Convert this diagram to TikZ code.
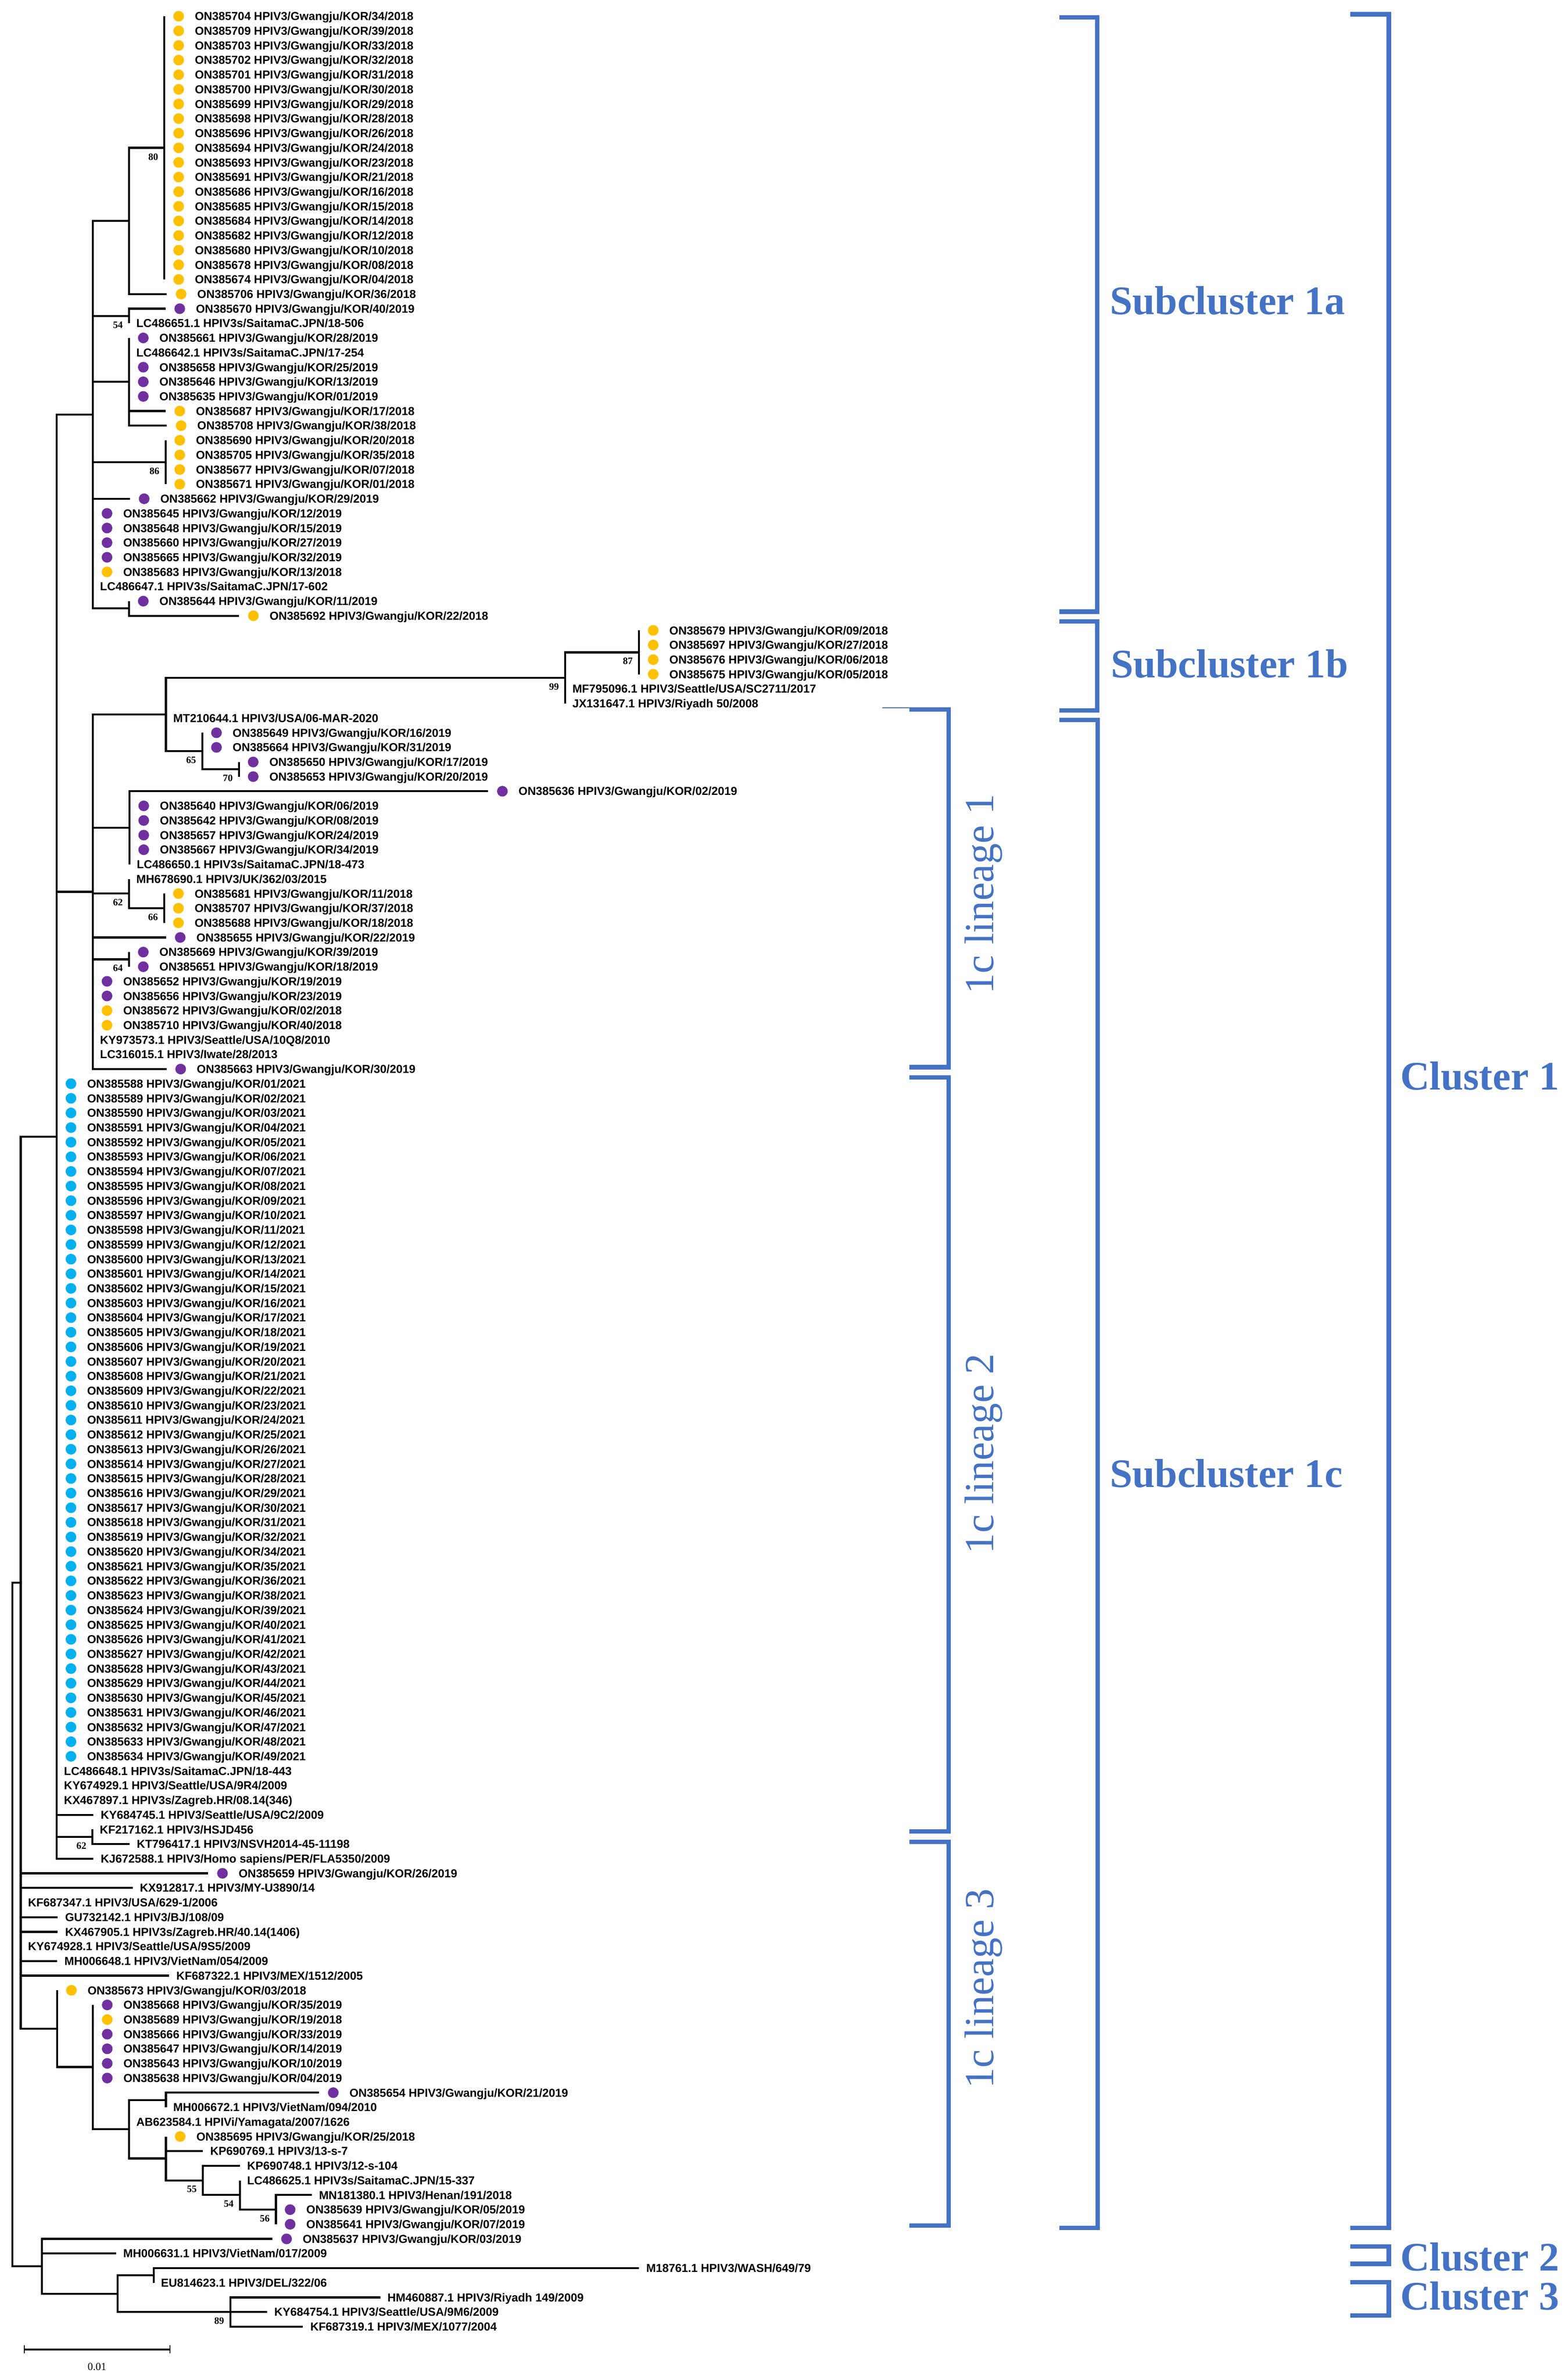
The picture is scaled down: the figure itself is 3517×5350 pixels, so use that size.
\documentclass[tikz,border=0pt]{standalone}
\usepackage{fontspec}
\setmainfont{Liberation Serif}
\newfontfamily\labfam{Liberation Sans}
\usetikzlibrary{calc}
\definecolor{cyel}{HTML}{FFC000}
\definecolor{cpur}{HTML}{7030A0}
\definecolor{cblu}{HTML}{00B0F0}
\definecolor{cbrk}{HTML}{4472C4}
\newcommand{\ry}[1]{(36.5+32.87*(#1))}
\newcommand{\inode}[4]{\coordinate (#1) at (#3,{\ry{#4}}); \draw[br] (#2) |- (#1);}
\newcommand{\tipd}[6]{\coordinate (#1) at (#3,{\ry{#4}}); \draw[br] (#2) |- (#1);
  \node[dot,fill=#5] (#1d) at ($(#1)+(32,0)$) {};
  \node[lab] (#1t) at ($(#1)+(68,9.3)$) {#6};}
\newcommand{\tipn}[5]{\coordinate (#1) at (#3,{\ry{#4}}); \draw[br] (#2) |- (#1);
  \node[lab] (#1t) at ($(#1)+(16,9.3)$) {#5};}
\newcommand{\bs}[2]{\node[bsl] (bs#1) at ($(#1)+(-25,20)$) {#2};}
\newcommand{\gw}[2]{ON385#1 HPIV3/Gwangju/KOR/#2}
\begin{document}
\begin{tikzpicture}[x=0.5pt,y=-0.5pt,
  br/.style={line width=2.25pt,draw=black},
  dot/.style={circle,inner sep=0pt,minimum size=12pt,draw=none},
  lab/.style={anchor=base west,inner sep=0pt,font=\labfam\bfseries\fontsize{13}{13}\selectfont},
  bsl/.style={inner sep=0pt,font=\bfseries\fontsize{11}{11}\selectfont},
  brk/.style={draw=cbrk,line width=5pt,line join=miter},
  blab/.style={text=cbrk,anchor=base west,inner sep=0pt,font=\bfseries\fontsize{45.5}{46}\selectfont},
  llab/.style={text=cbrk,rotate=90,anchor=base,inner sep=0pt,font=\fontsize{46.5}{47}\selectfont}]
\useasboundingbox (0,0) rectangle (3517,5350);
\fill[white] (0,0) rectangle (3517,5350);
% ---- internal nodes
\coordinate (R0) at (28,{\ry{130.5}});
\inode{R1}{R0}{46.5}{107.125}
\inode{Z}{R0}{94.5}{153.875}
\inode{N127}{R1}{127.5}{76.625}
\inode{Q}{R1}{128.5}{137.625}
\inode{B}{N127}{208.5}{27.25}
\inode{J}{N127}{208.5}{59.875}
\inode{N2}{N127}{208}{124.5}
\inode{A}{B}{290}{14}
\inode{A19}{A}{369.5}{9}
\inode{C}{B}{290}{20.5}
\inode{D}{B}{290}{25}
\inode{E}{B}{372}{30.5}
\inode{F}{B}{290}{40.5}
\inode{G}{J}{373}{47.75}
\inode{B1b}{G}{1270}{45.25}
\inode{B1c}{B1b}{1436}{43.5}
\inode{H}{G}{454.5}{50.25}
\inode{I}{H}{537}{51.5}
\inode{K}{J}{291}{55.5}
\inode{L}{J}{290}{60}
\inode{N}{L}{369}{61}
\inode{M}{J}{290}{64.5}
\inode{Rn}{Q}{209}{140.25}
\inode{S}{Rn}{290}{144.5}
\inode{T}{S}{373}{142.5}
\inode{U}{S}{373}{146.5}
\inode{V}{U}{456}{148}
\inode{W}{V}{539}{149}
\inode{X}{W}{620}{150}
\inode{AA}{Z}{264}{155.75}
\inode{AB}{AA}{345.5}{154.5}
\inode{AC}{AA}{517.5}{157}
% ---- subcluster 1a
\foreach \a/\b [count=\r from 0] in {704/34,709/39,703/33,702/32,701/31,700/30,699/29,698/28,696/26,694/24,693/23,691/21,686/16,685/15,684/14,682/12,680/10,678/08,674/04}
  {\tipd{a\r}{A19}{369.5}{\r}{cyel}{\gw{\a}{\b/2018}}}
\tipd{t19}{A}{375}{19}{cyel}{\gw{706}{36/2018}}
\tipd{t20}{C}{372}{20}{cpur}{\gw{670}{40/2019}}
\tipn{t21}{C}{290}{21}{LC486651.1 HPIV3s/SaitamaC.JPN/18-506}
\tipd{t22}{D}{290}{22}{cpur}{\gw{661}{28/2019}}
\tipn{t23}{D}{290}{23}{LC486642.1 HPIV3s/SaitamaC.JPN/17-254}
\tipd{t24}{D}{290}{24}{cpur}{\gw{658}{25/2019}}
\tipd{t25}{D}{290}{25}{cpur}{\gw{646}{13/2019}}
\tipd{t26}{D}{290}{26}{cpur}{\gw{635}{01/2019}}
\tipd{t27}{D}{372}{27}{cyel}{\gw{687}{17/2018}}
\tipd{t28}{D}{375}{28}{cyel}{\gw{708}{38/2018}}
\tipd{t29}{E}{372}{29}{cyel}{\gw{690}{20/2018}}
\tipd{t30}{E}{372}{30}{cyel}{\gw{705}{35/2018}}
\tipd{t31}{E}{372}{31}{cyel}{\gw{677}{07/2018}}
\tipd{t32}{E}{372}{32}{cyel}{\gw{671}{01/2018}}
\tipd{t33}{B}{292}{33}{cpur}{\gw{662}{29/2019}}
\tipd{t34}{B}{208.5}{34}{cpur}{\gw{645}{12/2019}}
\tipd{t35}{B}{208.5}{35}{cpur}{\gw{648}{15/2019}}
\tipd{t36}{B}{208.5}{36}{cpur}{\gw{660}{27/2019}}
\tipd{t37}{B}{208.5}{37}{cpur}{\gw{665}{32/2019}}
\tipd{t38}{B}{208.5}{38}{cyel}{\gw{683}{13/2018}}
\tipn{t39}{B}{208.5}{39}{LC486647.1 HPIV3s/SaitamaC.JPN/17-602}
\tipd{t40}{F}{290}{40}{cpur}{\gw{644}{11/2019}}
\tipd{t41}{F}{537.5}{41}{cyel}{\gw{692}{22/2018}}
% ---- subcluster 1b
\tipd{t42}{B1c}{1436}{42}{cyel}{\gw{679}{09/2018}}
\tipd{t43}{B1c}{1436}{43}{cyel}{\gw{697}{27/2018}}
\tipd{t44}{B1c}{1436}{44}{cyel}{\gw{676}{06/2018}}
\tipd{t45}{B1c}{1436}{45}{cyel}{\gw{675}{05/2018}}
\tipn{t46}{B1b}{1270}{46}{MF795096.1 HPIV3/Seattle/USA/SC2711/2017}
\tipn{t47}{B1b}{1270}{47}{JX131647.1 HPIV3/Riyadh 50/2008}
% ---- lineage 1
\tipn{t48}{G}{373}{48}{MT210644.1 HPIV3/USA/06-MAR-2020}
\tipd{t49}{H}{454.5}{49}{cpur}{\gw{649}{16/2019}}
\tipd{t50}{H}{454.5}{50}{cpur}{\gw{664}{31/2019}}
\tipd{t51}{I}{537}{51}{cpur}{\gw{650}{17/2019}}
\tipd{t52}{I}{537}{52}{cpur}{\gw{653}{20/2019}}
\tipd{t53}{K}{1097}{53}{cpur}{\gw{636}{02/2019}}
\tipd{t54}{K}{291}{54}{cpur}{\gw{640}{06/2019}}
\tipd{t55}{K}{291}{55}{cpur}{\gw{642}{08/2019}}
\tipd{t56}{K}{291}{56}{cpur}{\gw{657}{24/2019}}
\tipd{t57}{K}{291}{57}{cpur}{\gw{667}{34/2019}}
\tipn{t58}{K}{291}{58}{LC486650.1 HPIV3s/SaitamaC.JPN/18-473}
\tipn{t59}{L}{290}{59}{MH678690.1 HPIV3/UK/362/03/2015}
\tipd{t60}{N}{369}{60}{cyel}{\gw{681}{11/2018}}
\tipd{t61}{N}{369}{61}{cyel}{\gw{707}{37/2018}}
\tipd{t62}{N}{369}{62}{cyel}{\gw{688}{18/2018}}
\tipd{t63}{J}{373}{63}{cpur}{\gw{655}{22/2019}}
\tipd{t64}{M}{290}{64}{cpur}{\gw{669}{39/2019}}
\tipd{t65}{M}{290}{65}{cpur}{\gw{651}{18/2019}}
\tipd{t66}{J}{208.5}{66}{cpur}{\gw{652}{19/2019}}
\tipd{t67}{J}{208.5}{67}{cpur}{\gw{656}{23/2019}}
\tipd{t68}{J}{208.5}{68}{cyel}{\gw{672}{02/2018}}
\tipd{t69}{J}{208.5}{69}{cyel}{\gw{710}{40/2018}}
\tipn{t70}{J}{208.5}{70}{KY973573.1 HPIV3/Seattle/USA/10Q8/2010}
\tipn{t71}{J}{208.5}{71}{LC316015.1 HPIV3/Iwate/28/2013}
\tipd{t72}{J}{374}{72}{cpur}{\gw{663}{30/2019}}
% ---- lineage 2
\foreach \a/\b [count=\r from 73] in {588/01,589/02,590/03,591/04,592/05,593/06,594/07,595/08,596/09,597/10,598/11,599/12,600/13,601/14,602/15,603/16,604/17,605/18,606/19,607/20,608/21,609/22,610/23,611/24,612/25,613/26,614/27,615/28,616/29,617/30,618/31,619/32,620/34,621/35,622/36,623/38,624/39,625/40,626/41,627/42,628/43,629/44,630/45,631/46,632/47,633/48,634/49}
  {\tipd{b\r}{N127}{127.5}{\r}{cblu}{\gw{\a}{\b/2021}}}
\tipn{t120}{N127}{127.5}{120}{LC486648.1 HPIV3s/SaitamaC.JPN/18-443}
\tipn{t121}{N127}{127.5}{121}{KY674929.1 HPIV3/Seattle/USA/9R4/2009}
\tipn{t122}{N127}{127.5}{122}{KX467897.1 HPIV3s/Zagreb.HR/08.14(346)}
\tipn{t123}{N127}{210}{123}{KY684745.1 HPIV3/Seattle/USA/9C2/2009}
\tipn{t124}{N2}{208}{124}{KF217162.1 HPIV3/HSJD456}
\tipn{t125}{N2}{291}{125}{KT796417.1 HPIV3/NSVH2014-45-11198}
\tipn{t126}{N127}{210}{126}{KJ672588.1 HPIV3/Homo sapiens/PER/FLA5350/2009}
% ---- lineage 3
\tipd{t127}{R1}{468}{127}{cpur}{\gw{659}{26/2019}}
\tipn{t128}{R1}{298}{128}{KX912817.1 HPIV3/MY-U3890/14}
\tipn{t129}{R1}{46.5}{129}{KF687347.1 HPIV3/USA/629-1/2006}
\tipn{t130}{R1}{130}{130}{GU732142.1 HPIV3/BJ/108/09}
\tipn{t131}{R1}{130}{131}{KX467905.1 HPIV3s/Zagreb.HR/40.14(1406)}
\tipn{t132}{R1}{46.5}{132}{KY674928.1 HPIV3/Seattle/USA/9S5/2009}
\tipn{t133}{R1}{128.5}{133}{MH006648.1 HPIV3/VietNam/054/2009}
\tipn{t134}{R1}{380}{134}{KF687322.1 HPIV3/MEX/1512/2005}
\tipd{t135}{Q}{128.5}{135}{cyel}{\gw{673}{03/2018}}
\tipd{t136}{Rn}{209}{136}{cpur}{\gw{668}{35/2019}}
\tipd{t137}{Rn}{209}{137}{cyel}{\gw{689}{19/2018}}
\tipd{t138}{Rn}{209}{138}{cpur}{\gw{666}{33/2019}}
\tipd{t139}{Rn}{209}{139}{cpur}{\gw{647}{14/2019}}
\tipd{t140}{Rn}{209}{140}{cpur}{\gw{643}{10/2019}}
\tipd{t141}{Rn}{209}{141}{cpur}{\gw{638}{04/2019}}
\tipd{t142}{T}{717}{142}{cpur}{\gw{654}{21/2019}}
\tipn{t143}{T}{373}{143}{MH006672.1 HPIV3/VietNam/094/2010}
\tipn{t144}{S}{290}{144}{AB623584.1 HPIVi/Yamagata/2007/1626}
\tipd{t145}{U}{373}{145}{cyel}{\gw{695}{25/2018}}
\tipn{t146}{U}{456}{146}{KP690769.1 HPIV3/13-s-7}
\tipn{t147}{V}{539}{147}{KP690748.1 HPIV3/12-s-104}
\tipn{t148}{W}{539}{148}{LC486625.1 HPIV3s/SaitamaC.JPN/15-337}
\tipn{t149}{X}{700.5}{149}{MN181380.1 HPIV3/Henan/191/2018}
\tipd{t150}{X}{620}{150}{cpur}{\gw{639}{05/2019}}
\tipd{t151}{X}{620}{151}{cpur}{\gw{641}{07/2019}}
% ---- clusters 2 and 3
\tipd{t152}{Z}{612}{152}{cpur}{\gw{637}{03/2019}}
\tipn{t153}{Z}{260.6}{153}{MH006631.1 HPIV3/VietNam/017/2009}
\tipn{t154}{AB}{1436}{154}{M18761.1 HPIV3/WASH/649/79}
\tipn{t155}{AB}{345.5}{155}{EU814623.1 HPIV3/DEL/322/06}
\tipn{t156}{AC}{854.5}{156}{HM460887.1 HPIV3/Riyadh 149/2009}
\tipn{t157}{AC}{600}{157}{KY684754.1 HPIV3/Seattle/USA/9M6/2009}
\tipn{t158}{AC}{681}{158}{KF687319.1 HPIV3/MEX/1077/2004}
% ---- bootstrap values
\bs{A19}{80} \bs{C}{54} \bs{E}{86} \bs{B1c}{87} \bs{B1b}{99}
\bs{H}{65} \bs{I}{70} \bs{L}{62} \bs{N}{66} \bs{M}{64}
\bs{N2}{62} \bs{V}{55} \bs{W}{54} \bs{X}{56} \bs{AC}{89}
% ---- scale bar
\coordinate (sbA) at (55,5281); \coordinate (sbB) at (382,5281);
\draw[line width=2.2pt] (sbA) -- (sbB);
\draw[line width=1pt] ($(sbA)+(0,-9)$) -- ($(sbA)+(0,9)$);
\draw[line width=1pt] ($(sbB)+(0,-9)$) -- ($(sbB)+(0,9)$);
\node[inner sep=0pt,font=\fontsize{12}{12}\selectfont] (sbl) at (218,5320) {0.01};
% ---- brackets
\draw[brk] (2381,39) -- (2466,39) -- (2466,1375) -- (2381,1375);
\draw[brk] (2381,1397) -- (2466,1397) -- (2466,1597) -- (2381,1597);
\draw[brk] (2381,1618) -- (2467,1618) -- (2467,5008) -- (2381,5008);
\draw[brk] (3035,32) -- (3121,32) -- (3121,5008) -- (3035,5008);
\draw[brk] (3035,5050) -- (3121,5050) -- (3121,5089) -- (3035,5089);
\draw[brk] (3035,5130) -- (3121,5130) -- (3121,5205) -- (3035,5205);
\draw[brk] (2044,1595) -- (2132,1595) -- (2132,2399) -- (2044,2399);
\draw[cbrk,line width=1.5pt] (1983,1591) -- (2044,1591);
\draw[brk] (2044,2422) -- (2132,2422) -- (2132,4117) -- (2044,4117);
\draw[brk] (2044,4140) -- (2132,4140) -- (2132,5003) -- (2044,5003);
\node[blab] (s1a) at (2494,707) {Subcluster 1a};
\node[blab] (s1b) at (2496,1523) {Subcluster 1b};
\node[blab] (s1c) at (2494,3343) {Subcluster 1c};
\node[blab] (c1) at (3147,2450) {Cluster 1};
\node[blab] (c2) at (3147,5104) {Cluster 2};
\node[blab] (c3) at (3147,5192) {Cluster 3};
\node[llab] (l1) at (2232,2010) {1c lineage 1};
\node[llab] (l2) at (2232,3268) {1c lineage 2};
\node[llab] (l3) at (2232,4470) {1c lineage 3};
\end{tikzpicture}
\end{document}
